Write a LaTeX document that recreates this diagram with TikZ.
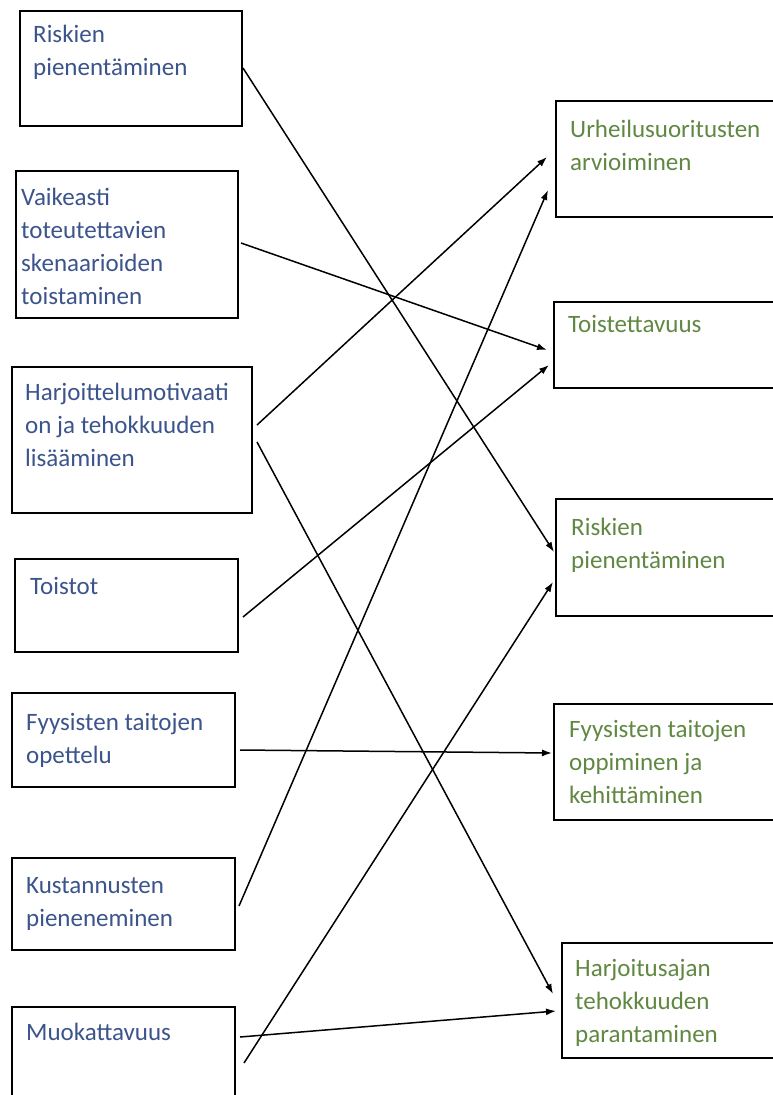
\documentclass[tikz,border=0pt]{standalone}
\usepackage{fontspec}
\setmainfont{Carlito}
\usepackage{tikz}
\usetikzlibrary{arrows.meta,positioning,fit,calc}
\usepackage{xcolor}
\definecolor{causecolor}{RGB}{60, 84, 140}
\definecolor{effectcolor}{RGB}{96, 136, 66}

\begin{document}
\begin{tikzpicture}[x=1pt, y=-1pt,
    >={Latex[length=10pt,width=7pt]},
    box/.style={rectangle, draw, line width=1.8pt, inner sep=0pt, outer sep=0pt},
    cause/.style={anchor=north west, align=left, inner sep=0pt, text=causecolor, font=\fontsize{25}{33}\selectfont},
    effect/.style={anchor=north west, align=left, inner sep=0pt, text=effectcolor, font=\fontsize{25}{33}\selectfont},
    link/.style={->, line width=1.5pt},
]
    \useasboundingbox (0,0) rectangle (773,1095);
    \fill[white] (0,0) rectangle (773,1095);
    \clip (0,0) rectangle (773,1095);

    % Left column
    \node[box, fit={(20,11) (242,126)}] (riskL) {};
    \node[cause] (riskLtxt) at (33,25) {Riskien\\pienentäminen};
    \node[box, fit={(16,171) (238,318)}] (vaikL) {};
    \node[cause] (vaikLtxt) at (21,188) {Vaikeasti\\toteutettavien\\skenaarioiden\\toistaminen};
    \node[box, fit={(12,367) (252,513)}] (harjL) {};
    \node[cause] (harjLtxt) at (25,383) {Harjoittelumotivaati\\on ja tehokkuuden\\lisääminen};
    \node[box, fit={(15,559) (238,652)}] (toisL) {};
    \node[cause] (toisLtxt) at (30,577) {Toistot};
    \node[box, fit={(12,693) (235,787)}] (fyysL) {};
    \node[cause] (fyysLtxt) at (26,713) {Fyysisten taitojen\\opettelu};
    \node[box, fit={(12,858) (235,950)}] (kustL) {};
    \node[cause] (kustLtxt) at (26,877) {Kustannusten\\pieneneminen};
    \node[box, fit={(12,1007) (235,1120)}] (muokL) {};
    \node[cause] (muokLtxt) at (26,1023) {Muokattavuus};

    % Right column
    \node[box, fit={(556,101) (790,217)}] (urhR) {};
    \node[effect] (urhRtxt) at (570,120) {Urheilusuoritusten\\arvioiminen};
    \node[box, fit={(554,302) (790,388)}] (toiR) {};
    \node[effect] (toiRtxt) at (568,315) {Toistettavuus};
    \node[box, fit={(556,499) (790,616)}] (risR) {};
    \node[effect] (risRtxt) at (571,518) {Riskien\\pienentäminen};
    \node[box, fit={(554,704) (790,820)}] (fyyR) {};
    \node[effect] (fyyRtxt) at (569,720) {Fyysisten taitojen\\oppiminen ja\\kehittäminen};
    \node[box, fit={(562,943) (790,1058)}] (harR) {};
    \node[effect] (harRtxt) at (575,959) {Harjoitusajan\\tehokkuuden\\parantaminen};

    % Arrows
    \draw[link] ([shift={(1,57)}]riskL.north east) -- ([shift={(-2,53)}]risR.north west);
    \draw[link] ([shift={(3,72)}]vaikL.north east) -- ([shift={(-7,48)}]toiR.north west);
    \draw[link] ([shift={(5,58)}]harjL.north east) -- ([shift={(-9,56)}]urhR.north west);
    \draw[link] ([shift={(5,75)}]harjL.north east) -- ([shift={(-9,51)}]harR.north west);
    \draw[link] ([shift={(5,58)}]toisL.north east) -- ([shift={(-5,63)}]toiR.north west);
    \draw[link] ([shift={(5,57)}]fyysL.north east) -- ([shift={(-2,49)}]fyyR.north west);
    \draw[link] ([shift={(4,48)}]kustL.north east) -- ([shift={(-8,89)}]urhR.north west);
    \draw[link] ([shift={(5,30)}]muokL.north east) -- ([shift={(-6,68)}]harR.north west);
    \draw[link] ([shift={(9,56)}]muokL.north east) -- ([shift={(-3,83)}]risR.north west);
\end{tikzpicture}
\end{document}
